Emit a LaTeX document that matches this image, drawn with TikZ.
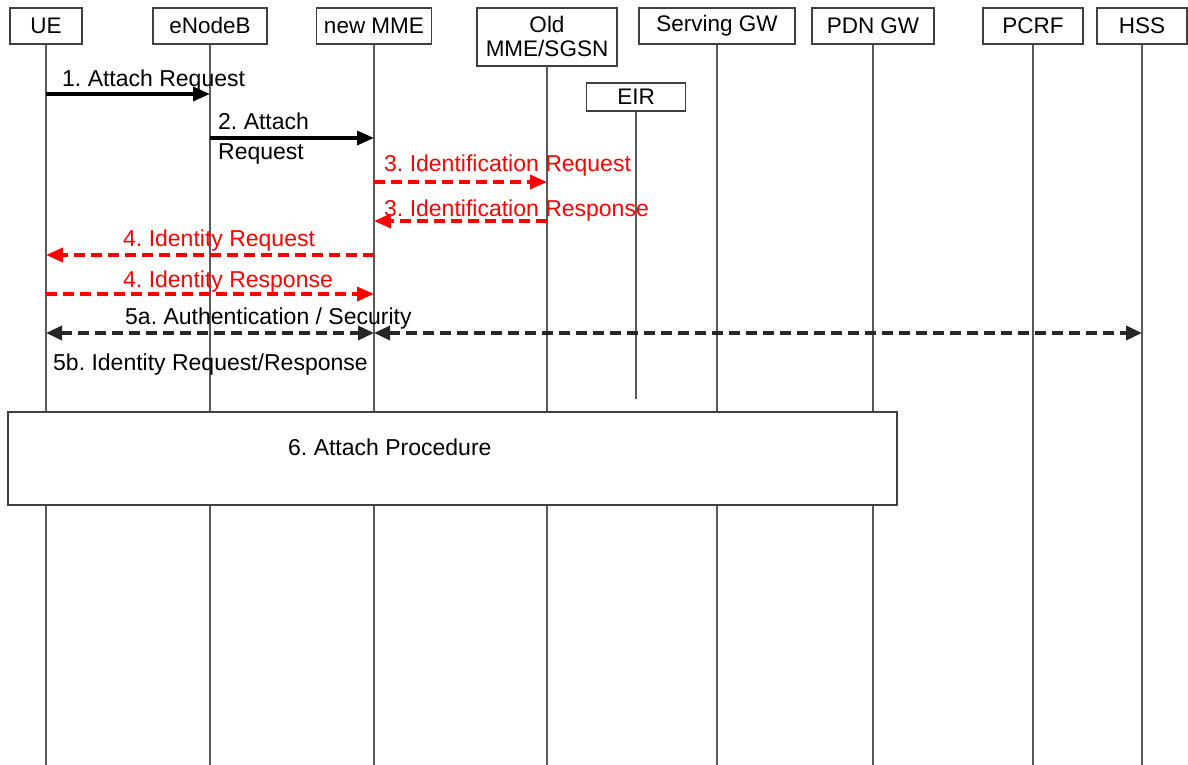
\documentclass[tikz,border=0pt]{standalone}
\usepackage{fontspec}
\setmainfont{Liberation Sans}
\usetikzlibrary{arrows.meta,positioning,calc}
\frenchspacing

\tikzset{
    entity/.style={draw=black!75, line width=1.8pt, fill=white, anchor=north,
        minimum height=36pt, inner sep=0pt, align=center,
        font=\fontsize{22.5}{24}\selectfont},
    lifeline/.style={draw=black!65, line width=2pt},
    msg/.style={line width=3.5pt, -{Triangle[length=17pt,width=14pt]}},
    redmsg/.style={msg, red, dash pattern=on 11pt off 6pt},
    dblmsg/.style={line width=3.5pt, black!85, dash pattern=on 11pt off 6pt,
        {Triangle[length=16pt,width=14pt]}-{Triangle[length=16pt,width=14pt]}},
    lbl/.style={anchor=base west, inner sep=0pt, font=\fontsize{23}{30}\selectfont},
}

\begin{document}
\begin{tikzpicture}[x=1pt,y=-1pt]
    \useasboundingbox (0,0) rectangle (1188,765);

    % Entities
    \node[entity, minimum width=72pt]  (ue)   at (46,7)   {UE};
    \node[entity, minimum width=114pt] (enb)  at (210,7)  {eNodeB};
    \node[entity, minimum width=115pt] (mme)  at (374,7)  {new MME};
    \node[entity, minimum width=140pt, minimum height=58pt] (old) at (547,7) {Old\\MME/SGSN};
    \node[entity, minimum width=99pt, minimum height=28pt]  (eir) at (636,82) {EIR};
    \node[entity, minimum width=156pt] (sgw)  at (717,7)  {Serving GW};
    \node[entity, minimum width=122pt] (pgw)  at (873,7)  {PDN GW};
    \node[entity, minimum width=100pt] (pcrf) at (1033,7) {PCRF};
    \node[entity, minimum width=90pt]  (hss)  at (1142,7) {HSS};

    % Lifelines
    \foreach \n in {ue,enb,mme,old,sgw,pgw,pcrf,hss}
        \draw[lifeline] (\n.south) -- (\n.south |- 0,765);
    \draw[lifeline] (eir.south) -- (eir.south |- 0,399);

    % Attach procedure box
    \node[draw=black!75, line width=1.8pt, fill=white, anchor=north west,
          minimum width=889pt, minimum height=93pt, inner sep=0pt] (attach) at (7,411) {};
    \node[lbl] (l6) at (288,455) {6. Attach Procedure};

    % 1 and 2
    \draw[msg] (ue |- 0,94) -- (enb |- 0,94);
    \node[lbl] (l1) at (62,87) {1. Attach Request};
    \draw[msg] (enb |- 0,138) -- (mme |- 0,138);
    \node[lbl, align=left, anchor=north west] (l2) at (218,113) {2. Attach\\Request};

    % 3
    \draw[redmsg] (mme |- 0,182) -- (old |- 0,182);
    \node[lbl, red] (l3a) at (384,171) {3. Identification Request};
    \draw[redmsg] (old |- 0,221) -- (mme |- 0,221);
    \node[lbl, red] (l3b) at (384,216) {3. Identification Response};

    % 4
    \draw[redmsg] (mme |- 0,255) -- (ue |- 0,255);
    \node[lbl, red] (l4a) at (123,246) {4. Identity Request};
    \draw[redmsg] (ue |- 0,294) -- (mme |- 0,294);
    \node[lbl, red] (l4b) at (123,287) {4. Identity Response};

    % 5
    \draw[dblmsg] (ue |- 0,333) -- (mme |- 0,333);
    \draw[dblmsg] (mme |- 0,333) -- (hss |- 0,333);
    \node[lbl] (l5a) at (125,324) {5a. Authentication / Security};
    \node[lbl] (l5b) at (53,370) {5b. Identity Request/Response};
\end{tikzpicture}
\end{document}
